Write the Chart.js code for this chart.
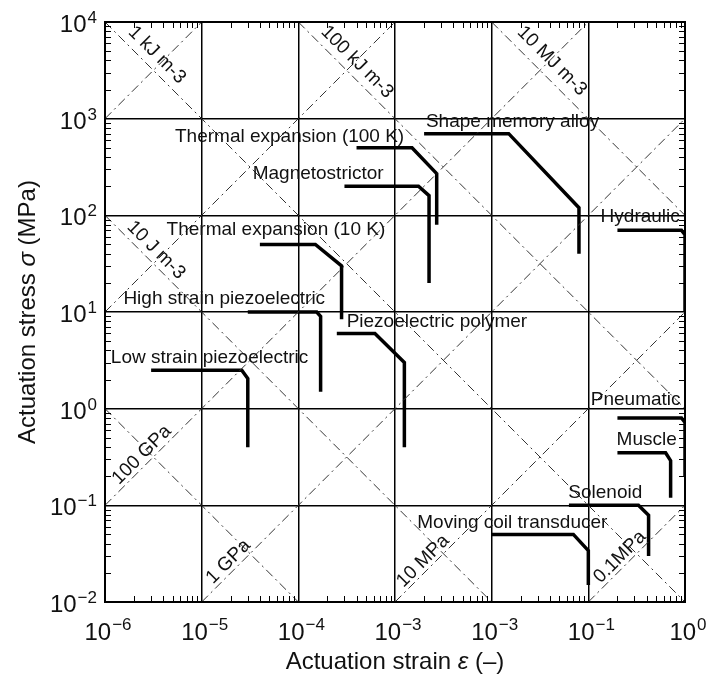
<!DOCTYPE html>
<html>
<head>
<meta charset="utf-8">
<script src="https://cdn.jsdelivr.net/npm/chart.js@4.4.0/dist/chart.umd.min.js"></script>
<style>
  html, body { margin: 0; padding: 0; background: #fff; }
  #wrap { width: 711px; height: 677px; }
</style>
</head>
<body>
<div id="wrap"><canvas id="actuators" width="711" height="677"></canvas></div>
<script>
// axis decades and the exponents printed under them
var strainTicks = [1e-6, 1e-5, 1e-4, 1e-3, 1e-2, 1e-1, 1];
var strainTickExp = ['\u22126', '\u22125', '\u22124', '\u22123', '\u22123', '\u22121', '0'];
var stressTicks = [1e-2, 1e-1, 1, 1e1, 1e2, 1e3, 1e4];
var stressTickExp = ['\u22122', '\u22121', '0', '1', '2', '3', '4'];

// guide lines: stress*strain = const and stress/strain = const (MPa)
var workDensities = [1e-6, 1e-4, 1e-2, 1, 1e2];
var moduli = [1e9, 1e7, 1e5, 1e3, 1e1, 1e-1];

// actuator envelopes as [strain, stress in MPa]
var thermal100K    = [[4e-4, 500], [1.5e-3, 500], [2.7e-3, 270], [2.7e-3, 80]];
var magnetostrictor = [[3e-4, 200], [1.75e-3, 200], [2.25e-3, 160], [2.25e-3, 20]];
var shapeMemory    = [[2e-3, 700], [1.5e-2, 700], [8e-2, 120], [8e-2, 40]];
var thermal10K     = [[4e-5, 50], [1.5e-4, 50], [2.8e-4, 30], [2.8e-4, 8.4]];
var hydraulic      = [[0.2, 70], [0.92, 70], [1, 63], [1, 10]];
var highPiezo      = [[3e-5, 10], [1.55e-4, 10], [1.7e-4, 9], [1.7e-4, 1.5]];
var piezoPolymer   = [[2.5e-4, 6], [6.2e-4, 6], [1.25e-3, 3], [1.25e-3, 0.4]];
var lowPiezo       = [[3e-6, 2.5], [2.6e-5, 2.5], [3e-5, 2.05], [3e-5, 0.4]];
var pneumatic      = [[0.2, 0.8], [0.92, 0.8], [1, 0.72], [1, 0.2]];
var muscle         = [[0.2, 0.35], [0.63, 0.35], [0.71, 0.29], [0.71, 0.12]];
var solenoid       = [[0.063, 0.1], [0.33, 0.1], [0.42, 0.079], [0.42, 0.03]];
var movingCoil     = [[0.01, 0.05], [0.07, 0.05], [0.1, 0.034], [0.1, 0.015]];

var actuators = [thermal100K, magnetostrictor, shapeMemory, thermal10K, hydraulic,
  highPiezo, piezoPolymer, lowPiezo, pneumatic, muscle, solenoid, movingCoil];

// names, anchored at left end of the baseline
var actuatorNames = [
  { text: 'Thermal expansion (100 K)', at: [5.3e-6, 578] },
  { text: 'Magnetostrictor', at: [3.37e-5, 236] },
  { text: 'Shape memory alloy', at: [2.09e-3, 814] },
  { text: 'Thermal expansion (10 K)', at: [4.34e-6, 62.6] },
  { text: 'Hydraulic', at: [0.134, 84.7] },
  { text: 'High strain piezoelectric', at: [1.55e-6, 12.1] },
  { text: 'Piezoelectric polymer', at: [3.16e-4, 6.95] },
  { text: 'Low strain piezoelectric', at: [1.15e-6, 2.99] },
  { text: 'Pneumatic', at: [0.106, 1.09] },
  { text: 'Muscle', at: [0.196, 0.421] },
  { text: 'Solenoid', at: [0.0621, 0.12] },
  { text: 'Moving coil transducer', at: [1.7e-3, 0.058] }
];

// guide line captions, centred on the point given
var guideNames = [
  { text: '1 kJ m-3', at: [3.45e-6, 4560], rot: 45 },
  { text: '100 kJ m-3', at: [4.05e-4, 3855], rot: 45 },
  { text: '10 MJ m-3', at: [0.042, 3950], rot: 45 },
  { text: '10 J m-3', at: [3.37e-6, 43.7], rot: 45 },
  { text: '100 GPa', at: [2.4e-6, 0.332], rot: -45 },
  { text: '1 GPa', at: [1.89e-5, 0.0261], rot: -45 },
  { text: '10 MPa', at: [1.95e-3, 0.0265], rot: -45 },
  { text: '0.1MPa', at: [0.212, 0.0292], rot: -45 }
];

var epsMin = 1e-6, epsMax = 1, sigMin = 1e-2, sigMax = 1e4;

var datasets = [];
var guideStyle = { borderColor: '#333', borderWidth: 1, borderDash: [9, 4, 2, 4],
  pointRadius: 0, showLine: true, fill: false };

workDensities.forEach(function (w) {
  var e0 = Math.max(epsMin, w / sigMax), e1 = Math.min(epsMax, w / sigMin);
  datasets.push(Object.assign({ data: [{ x: e0, y: w / e0 }, { x: e1, y: w / e1 }] }, guideStyle));
});
moduli.forEach(function (m) {
  var e0 = Math.max(epsMin, sigMin / m), e1 = Math.min(epsMax, sigMax / m);
  datasets.push(Object.assign({ data: [{ x: e0, y: m * e0 }, { x: e1, y: m * e1 }] }, guideStyle));
});
actuators.forEach(function (pts) {
  datasets.push({
    data: pts.map(function (p) { return { x: p[0], y: p[1] }; }),
    borderColor: '#000', borderWidth: 3.5, pointRadius: 0, showLine: true, fill: false,
    borderJoinStyle: 'miter', borderCapStyle: 'butt'
  });
});

var FONT = '"Liberation Sans", Arial, sans-serif';

function powerLabel(ctx, exp, x, y, align, raise) {
  ctx.font = '24px ' + FONT;
  var w1 = ctx.measureText('10').width;
  ctx.font = '17px ' + FONT;
  var w2 = ctx.measureText(exp).width;
  var w = w1 + 1 + w2;
  var left = align === 'right' ? x - w : x - w / 2;
  ctx.textAlign = 'left';
  ctx.textBaseline = 'alphabetic';
  ctx.font = '24px ' + FONT;
  ctx.fillText('10', left, y);
  ctx.font = '17px ' + FONT;
  ctx.fillText(exp, left + w1 + 1, y - raise);
}

var decor = {
  id: 'decor',
  afterDraw: function (chart) {
    var ctx = chart.ctx, a = chart.chartArea;
    var xs = chart.scales.x, ys = chart.scales.y;
    ctx.save();
    ctx.fillStyle = '#111';
    ctx.strokeStyle = '#000';

    // frame
    ctx.lineWidth = 2;
    ctx.strokeRect(a.left, a.top, a.right - a.left, a.bottom - a.top);

    // inward minor ticks on all four sides
    ctx.lineWidth = 1;
    ctx.beginPath();
    for (var d = 0; d < strainTicks.length - 1; d++) {
      for (var k = 2; k < 10; k++) {
        var px = Math.round(xs.getPixelForValue(strainTicks[d] * k)) + 0.5;
        ctx.moveTo(px, a.bottom); ctx.lineTo(px, a.bottom - 6);
        ctx.moveTo(px, a.top); ctx.lineTo(px, a.top + 6);
      }
    }
    for (var d2 = 0; d2 < stressTicks.length - 1; d2++) {
      for (var k2 = 2; k2 < 10; k2++) {
        var py = Math.round(ys.getPixelForValue(stressTicks[d2] * k2)) + 0.5;
        ctx.moveTo(a.left, py); ctx.lineTo(a.left + 6, py);
        ctx.moveTo(a.right, py); ctx.lineTo(a.right - 6, py);
      }
    }
    ctx.stroke();

    // tick labels
    strainTicks.forEach(function (v, i) {
      powerLabel(ctx, strainTickExp[i], xs.getPixelForValue(v) + 3, 640, 'center', 10);
    });
    stressTicks.forEach(function (v, i) {
      powerLabel(ctx, stressTickExp[i], 97, ys.getPixelForValue(v) + 10, 'right', 9);
    });

    // axis titles with italic symbols
    function mixed(parts, x, y) {
      var total = 0;
      parts.forEach(function (p) { ctx.font = p[1] + '24px ' + FONT; total += ctx.measureText(p[0]).width; });
      var cx = x - total / 2;
      parts.forEach(function (p) {
        ctx.font = p[1] + '24px ' + FONT;
        ctx.fillText(p[0], cx, y);
        cx += ctx.measureText(p[0]).width;
      });
    }
    ctx.textAlign = 'left';
    ctx.textBaseline = 'alphabetic';
    mixed([['Actuation strain ', ''], ['\u03b5', 'italic '], [' (\u2013)', '']], (a.left + a.right) / 2, 669);
    ctx.save();
    ctx.translate(35, (a.top + a.bottom) / 2);
    ctx.rotate(-Math.PI / 2);
    mixed([['Actuation stress ', ''], ['\u03c3', 'italic '], [' (MPa)', '']], 0, 0);
    ctx.restore();

    // guide captions
    ctx.font = '19px ' + FONT;
    ctx.textAlign = 'center';
    ctx.textBaseline = 'middle';
    guideNames.forEach(function (g) {
      ctx.save();
      ctx.translate(xs.getPixelForValue(g.at[0]), ys.getPixelForValue(g.at[1]));
      ctx.rotate(g.rot * Math.PI / 180);
      ctx.fillText(g.text, 0, 0);
      ctx.restore();
    });

    // actuator names
    ctx.textAlign = 'left';
    ctx.textBaseline = 'alphabetic';
    actuatorNames.forEach(function (n) {
      ctx.fillText(n.text, xs.getPixelForValue(n.at[0]), ys.getPixelForValue(n.at[1]));
    });
    ctx.restore();
  }
};

new Chart(document.getElementById('actuators'), {
  type: 'scatter',
  data: { datasets: datasets },
  plugins: [decor],
  options: {
    responsive: false,
    animation: false,
    devicePixelRatio: 1,
    events: [],
    layout: { padding: { left: 0, top: 22, right: 26, bottom: 0 } },
    plugins: { legend: { display: false }, tooltip: { enabled: false } },
    scales: {
      x: {
        type: 'logarithmic', min: epsMin, max: epsMax,
        afterBuildTicks: function (s) { s.ticks = strainTicks.map(function (v) { return { value: v }; }); },
        afterFit: function (s) { s.height = 75; },
        ticks: { display: false },
        grid: { color: '#000', lineWidth: 1.5, drawTicks: false },
        border: { display: true, color: '#000', width: 2 }
      },
      y: {
        type: 'logarithmic', min: sigMin, max: sigMax,
        afterBuildTicks: function (s) { s.ticks = stressTicks.map(function (v) { return { value: v }; }); },
        afterFit: function (s) { s.width = 105; },
        ticks: { display: false },
        grid: { color: '#000', lineWidth: 1.5, drawTicks: false },
        border: { display: true, color: '#000', width: 2 }
      }
    }
  }
});
</script>
</body>
</html>
